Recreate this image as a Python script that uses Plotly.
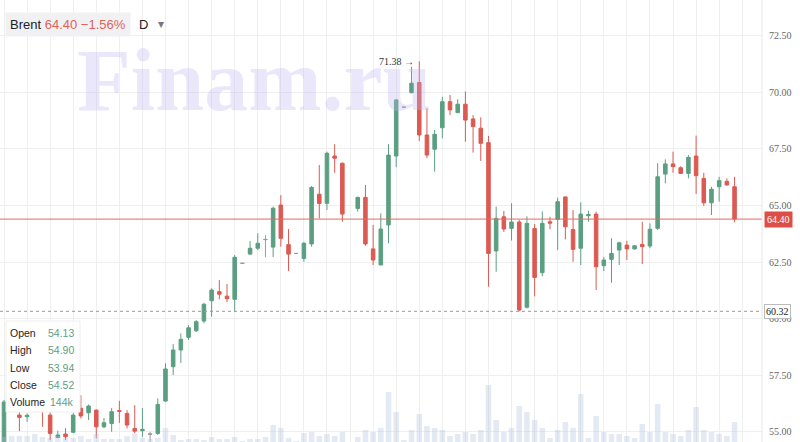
import plotly.graph_objects as go

# ---------------- data ----------------
idx = list(range(96))
open_ = [54.30, 56.20, 55.73, 55.66, 56.10, 56.15, 55.73, 54.74, 54.89, 54.97,
         56.03, 55.83, 55.95, 55.21, 55.36, 55.93, 55.80, 55.14, 55.04, 54.90,
         54.92, 56.35, 57.87, 58.61, 59.17, 59.46, 59.89, 60.79, 61.19, 60.99,
         60.85, 62.45, 62.85, 63.11, 63.49, 63.16, 65.02, 63.27, 62.88, 62.66,
         63.30, 65.50, 65.10, 67.19, 66.87, None, 64.87, 65.36, 63.08, 62.37,
         64.14, 67.19, 69.35, 69.99, 70.44, 68.12, 67.49, 68.44, 69.59, 69.11,
         69.48, 68.83, 68.42, 67.78, 62.99, 64.50, 63.99, 64.27, 60.50, 63.98,
         62.03, 64.28, 64.39, 65.38, 63.94, 63.11, 64.55, 64.62, 62.34, 62.62,
         63.03, 63.25, 63.08, 63.28, 63.21, 63.99, 66.39, 66.84, 66.67, 66.42,
         67.19, 66.20, 65.12, 65.83, 66.07, 65.83]
high = [56.40, 56.50, 55.95, 55.80, 56.50, 56.40, 55.85, 55.04, 55.15, 55.82,
        56.61, 56.20, 55.98, 55.60, 56.04, 56.36, 55.95, 56.17, 56.04, 54.99,
        56.47, 58.02, 58.87, 59.34, 59.71, 59.93, 60.70, 61.34, 61.70, 61.53,
        62.81, 62.46, 63.43, 63.77, 63.69, 64.95, 65.46, 63.96, 62.89, 63.40,
        65.86, 66.79, 67.38, 67.71, 66.90, None, 65.39, 65.91, 64.14, 64.65,
        67.71, 69.71, 69.36, 71.14, 71.38, 69.30, 68.34, 69.81, 69.89, 69.70,
        70.04, 69.00, 68.90, 68.08, 64.95, 64.76, 65.10, 64.36, 64.52, 64.18,
        64.74, 64.50, 65.35, 65.39, 64.80, 65.14, 64.77, 64.73, 62.73, 63.55,
        63.40, 63.44, 63.24, 64.28, 64.21, 66.87, 67.04, 67.38, 66.74, 67.23,
        68.09, 66.45, 65.83, 66.27, 66.20, 66.27]
low = [54.30, 56.00, 55.02, 55.43, 56.02, 55.21, 54.62, 54.71, 54.62, 54.93,
       55.58, 55.51, 54.71, 55.15, 54.99, 55.39, 55.14, 54.92, 54.77, 54.55,
       54.85, 56.32, 57.50, 58.04, 59.05, 59.40, 59.79, 60.08, 60.85, 60.72,
       60.30, 62.43, 62.83, 63.03, 62.71, 62.72, 63.18, 62.10, 62.87, 62.51,
       63.18, 64.43, 64.80, 66.45, 64.28, None, 64.73, 63.22, 62.37, 62.37,
       63.33, 66.70, 69.34, 69.96, 67.85, 67.09, 66.50, 67.97, 69.00, 69.08,
       67.82, 67.34, 66.97, 61.41, 62.07, 63.83, 63.45, 60.32, 60.45, 60.98,
       61.87, 63.95, 63.03, 63.50, 62.51, 62.37, 64.28, 61.26, 62.10, 61.58,
       62.37, 62.59, 63.05, 62.41, 63.11, 63.92, 65.98, 66.45, 66.40, 66.20,
       65.51, 64.98, 64.58, 65.17, 65.88, 64.26]
close = [56.31, 56.30, 55.63, 55.72, 56.35, 56.05, 54.92, 54.85, 54.77, 55.73,
         55.69, 56.13, 55.21, 55.39, 55.88, 55.90, 55.29, 55.02, 55.10, 54.88,
         56.20, 57.77, 58.61, 59.08, 59.59, 59.86, 60.63, 61.26, 61.08, 60.88,
         62.71, 62.44, 63.11, 63.33, 63.50, 64.88, 63.55, 62.85, 62.88, 63.33,
         65.80, 65.09, 67.31, 67.09, 64.62, None, 65.36, 63.30, 62.59, 63.96,
         67.23, 69.67, 69.35, 70.41, 68.12, 67.23, 68.15, 69.59, 69.23, 69.48,
         68.78, 68.49, 67.75, 62.88, 64.43, 63.96, 64.27, 60.38, 64.21, 61.82,
         64.21, 64.22, 65.17, 64.06, 63.06, 64.62, 64.60, 62.29, 62.59, 62.88,
         63.35, 63.08, 63.22, 63.18, 63.95, 66.27, 66.84, 66.72, 66.42, 67.13,
         66.32, 65.12, 65.72, 66.10, 65.91, 64.40]
volume_k = [50, 60, 60, 60, 80, 50, 40, 60, 40, 40,
            60, 30, 80, 30, 30, 30, 60, 80, 40, 30,
            40, 140, 70, 20, 30, 30, 20, 50, 30, 30,
            50, 10, 30, 30, 50, 170, 140, 40, 10, 90,
            100, 60, 80, 60, 100, 0, 50, 120, 100, 140,
            500, 300, 20, 120, 280, 160, 140, 120, 60, 80,
            100, 80, 120, 570, 220, 100, 140, 360, 300, 220,
            140, 40, 120, 200, 140, 480, 40, 260, 100, 80,
            80, 60, 40, 180, 100, 380, 100, 80, 60, 120,
            350, 120, 100, 80, 60, 200]

last_price = 64.40
min_price = 60.32
max_price = 71.38
y_ticks = [55.0, 57.5, 60.0, 62.5, 65.0, 67.5, 70.0, 72.5]
legend_labels = ["Open", "High", "Low", "Close", "Volume"]
legend_values = ["54.13", "54.90", "53.94", "54.52", "144k"]

GREEN = "#5b9f82"
RED = "#dc5a52"
GRAY = "#9a9a9a"


def pick(cond):
    xs, o, h, l, c = [], [], [], [], []
    for i in idx:
        if open_[i] is None:
            continue
        if cond(open_[i], close[i]):
            xs.append(i); o.append(open_[i]); h.append(high[i]); l.append(low[i]); c.append(close[i])
    return xs, o, h, l, c


doji = lambda o, c: abs(c - o) < 0.025
normal = lambda o, c: abs(c - o) >= 0.025

fig = go.Figure()

vx = [i for i in idx if volume_k[i] > 0]
vy = [volume_k[i] for i in vx]
fig.add_trace(go.Bar(x=vx, y=vy, yaxis="y2", marker_color="rgba(170,190,220,0.33)",
                     marker_line_width=0, width=0.72, hoverinfo="skip", showlegend=False))

xs, o, h, l, c = pick(normal)
fig.add_trace(go.Candlestick(x=xs, open=o, high=h, low=l, close=c,
                             increasing=dict(line=dict(color=GREEN, width=1), fillcolor=GREEN),
                             decreasing=dict(line=dict(color=RED, width=1), fillcolor=RED),
                             whiskerwidth=0, showlegend=False))
xs, o, h, l, c = pick(doji)
fig.add_trace(go.Candlestick(x=xs, open=o, high=h, low=l, close=c,
                             increasing=dict(line=dict(color=GRAY, width=1), fillcolor=GRAY),
                             decreasing=dict(line=dict(color=GRAY, width=1), fillcolor=GRAY),
                             whiskerwidth=0, showlegend=False))

W, H = 800, 442
PL, PR = 762, 442


def px(xp):
    return xp / PL


def py(yp):
    return 1 - yp / PR


shapes = [
    dict(type="line", xref="paper", yref="y", x0=0, x1=1, y0=last_price, y1=last_price,
         line=dict(color="#e06a63", width=1)),
    dict(type="line", xref="paper", yref="y", x0=0, x1=1, y0=min_price, y1=min_price,
         line=dict(color="#9a9a9a", width=1, dash="dot")),
    dict(type="line", xref="paper", yref="paper", x0=1, x1=1, y0=0, y1=1,
         line=dict(color="#e6e6e6", width=1)),
    dict(type="rect", xref="paper", yref="paper", x0=px(6), x1=px(80), y0=py(412), y1=py(321),
         fillcolor="white", line=dict(color="#eeeeee", width=1), layer="above"),
]

annotations = [
    dict(text="<b>Finam.ru</b>", xref="paper", yref="paper", x=px(254), y=py(30),
         showarrow=False, font=dict(family="Liberation Serif", size=88, color="rgba(190,180,238,0.32)")),
    dict(text="Brent <span style='color:#e0625a'>64.40 \u22121.56%</span>", xref="paper", yref="paper",
         x=px(5), y=py(24), xanchor="left", yanchor="middle", showarrow=False,
         bgcolor="#f1f1f4", borderpad=4, font=dict(family="Liberation Sans", size=13, color="#222")),
    dict(text="D", xref="paper", yref="paper", x=px(137), y=py(24), xanchor="left", yanchor="middle",
         showarrow=False, font=dict(family="Liberation Sans", size=13, color="#222")),
    dict(text="\u25BE", xref="paper", yref="paper", x=px(156), y=py(24), xanchor="left", yanchor="middle",
         showarrow=False, font=dict(family="DejaVu Sans", size=12, color="#777")),
    dict(text="71.38 \u2192", x=53.6, y=max_price, xref="x", yref="y", xanchor="right", yanchor="middle",
         showarrow=False, font=dict(family="Liberation Serif", size=10, color="#333")),
    dict(text="64.40", xref="paper", yref="y", x=1, y=last_price, xanchor="left", yanchor="middle",
         showarrow=False, bgcolor="#dc4f47", borderpad=2, xshift=2,
         font=dict(family="Liberation Serif", size=10, color="white")),
    dict(text="60.32", xref="paper", yref="y", x=1, y=min_price, xanchor="left", yanchor="middle",
         showarrow=False, bgcolor="white", bordercolor="#bbbbbb", borderwidth=1, borderpad=1, xshift=2,
         font=dict(family="Liberation Serif", size=10, color="#222")),
]
for j, (lab, val) in enumerate(zip(legend_labels, legend_values)):
    yy = 333 + j * 17.3
    annotations.append(dict(text=lab, xref="paper", yref="paper", x=px(8), y=py(yy), xanchor="left",
                            yanchor="middle", showarrow=False,
                            font=dict(family="Liberation Sans", size=10.5, color="#222")))
    annotations.append(dict(text=val, xref="paper", yref="paper", x=px(76), y=py(yy), xanchor="right",
                            yanchor="middle", showarrow=False,
                            font=dict(family="Liberation Sans", size=10.5, color="#5e9e86")))

fig.update_layout(
    width=W, height=H, margin=dict(l=0, r=W - PL, t=0, b=0),
    paper_bgcolor="white", plot_bgcolor="white", showlegend=False, boxgap=0.34,
    xaxis=dict(range=[-0.52, 98.57], showticklabels=False, showgrid=True, gridcolor="#efefef",
               tick0=0, dtick=3, zeroline=False, rangeslider=dict(visible=False), fixedrange=True),
    yaxis=dict(range=[54.54, 74.09], side="right", tickvals=y_ticks, tickformat=".2f",
               showgrid=True, gridcolor="#efefef", zeroline=False, ticks="", ticklabelstandoff=6,
               tickfont=dict(family="Liberation Serif", size=10, color="#666")),
    yaxis2=dict(range=[0, 4420], overlaying="y", visible=False, fixedrange=True),
    shapes=shapes, annotations=annotations,
)

fig.write_html("out.html", config={"displayModeBar": False})
